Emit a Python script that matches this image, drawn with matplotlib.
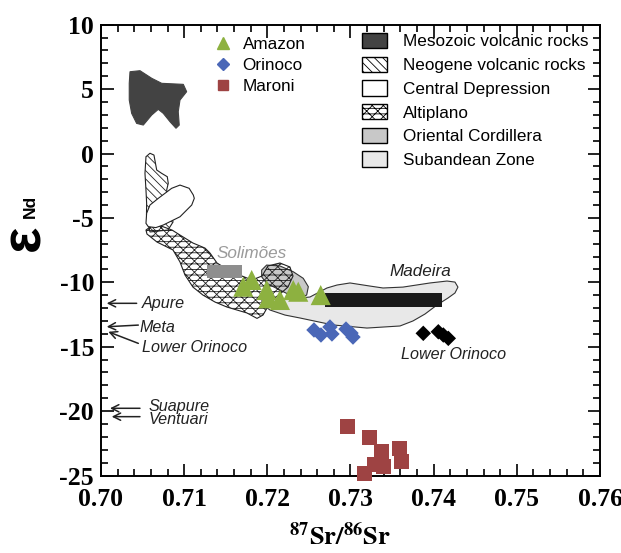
import matplotlib.pyplot as plt
from matplotlib.lines import Line2D
from matplotlib.patches import Patch

plt.rcParams['hatch.linewidth'] = 0.6
plt.rcParams['mathtext.fontset'] = 'stix'
plt.rcParams['axes.unicode_minus'] = False

# --- river samples (87Sr/86Sr, eps Nd) ---
amazon_sr = [0.71812, 0.71711, 0.71992, 0.72012, 0.72152, 0.72312, 0.72372, 0.72642]
amazon_nd = [-9.82, -10.34, -10.60, -11.24, -11.37, -10.60, -10.73, -10.99]

orinoco_sr = [0.72561, 0.72645, 0.72753, 0.72777, 0.72946, 0.73006, 0.73030]
orinoco_nd = [-13.70, -14.09, -13.47, -14.01, -13.63, -13.94, -14.25]

lower_orinoco_sr = [0.73875, 0.74056, 0.74116, 0.74176]
lower_orinoco_nd = [-13.96, -13.84, -14.09, -14.35]

maroni_sr = [0.72961, 0.73234, 0.73375, 0.73595, 0.73616, 0.73174, 0.73294, 0.73394]
maroni_nd = [-21.16, -22.03, -23.15, -22.89, -23.93, -24.83, -24.18, -24.32]

# ranges drawn as bars
madeira_sr = [0.7269, 0.7410]
madeira_nd = [-10.85, -11.89]
solimoes_sr = [0.7128, 0.7170]
solimoes_nd = [-8.66, -9.64]

# --- source fields (outlines) ---
mesozoic_x = [0.70349, 0.70469, 0.70610, 0.70730, 0.70990, 0.71030, 0.70950, 0.70929, 0.70941,
              0.70902, 0.70830, 0.70749, 0.70689, 0.70610, 0.70509, 0.70429, 0.70369, 0.70340, 0.70340]
mesozoic_y = [6.35, 6.43, 5.84, 5.45, 5.37, 4.80, 4.15, 3.25, 2.21,
              1.96, 2.47, 3.12, 3.43, 2.99, 2.21, 2.34, 3.12, 4.15, 5.45]

neogene_x = [0.70589, 0.70637, 0.70670, 0.70730, 0.70797, 0.70809, 0.70790, 0.70830,
             0.70866, 0.70806, 0.70589, 0.70547, 0.70549, 0.70541, 0.70529, 0.70541]
neogene_y = [0.02, -0.12, -1.28, -1.54, -1.80, -2.31, -2.83, -4.00,
             -5.32, -5.94, -6.09, -4.77, -3.87, -2.83, -1.54, -0.25]

central_x = [0.71110, 0.71060, 0.70950, 0.70850, 0.70689, 0.70589, 0.70549, 0.70541,
             0.70569, 0.70660, 0.70749, 0.70950, 0.71091, 0.71122]
central_y = [-3.22, -2.70, -2.45, -2.70, -3.48, -4.00, -4.64, -5.42,
             -5.68, -5.75, -5.55, -4.91, -4.00, -3.48]

altiplano_x = [0.70541, 0.70625, 0.70745, 0.70854, 0.70950, 0.71106, 0.71250, 0.71311, 0.71395,
               0.71491, 0.71695, 0.71816, 0.71936, 0.72008, 0.72152, 0.72272, 0.72309, 0.72248,
               0.72152, 0.72056, 0.71996, 0.71948, 0.71876, 0.71755, 0.71635, 0.71515, 0.71371,
               0.71226, 0.71106, 0.71010, 0.70950, 0.70866, 0.70673, 0.70553]
altiplano_y = [-5.94, -5.55, -5.68, -5.94, -6.33, -6.95, -7.34, -7.73, -8.50,
               -8.89, -9.51, -9.82, -9.51, -8.73, -8.50, -8.81, -9.51, -10.37,
               -10.91, -11.37, -12.00, -12.54, -12.80, -12.38, -12.15, -11.92, -11.53,
               -10.99, -10.37, -9.43, -8.42, -7.49, -6.87, -6.25]

cordillera_x = [0.71932, 0.71992, 0.72152, 0.72312, 0.72432, 0.72493, 0.72473, 0.72372,
                0.72272, 0.72152, 0.71992, 0.71932]
cordillera_y = [-9.05, -8.66, -8.73, -9.18, -9.69, -10.34, -10.99, -11.24,
                -10.99, -10.60, -10.08, -9.57]

subandean_x = [0.71936, 0.72152, 0.72513, 0.72717, 0.72838, 0.72994, 0.73234, 0.73391, 0.73631,
               0.73956, 0.74160, 0.74256, 0.74292, 0.74256, 0.74172, 0.74040, 0.73896, 0.73751,
               0.73595, 0.73198, 0.72789, 0.72393, 0.72212, 0.72032, 0.71936]
subandean_y = [-11.22, -11.37, -11.14, -10.44, -10.21, -10.05, -10.29, -10.44, -10.37,
               -10.05, -9.90, -9.98, -10.37, -10.83, -11.22, -11.76, -12.46, -13.00,
               -13.39, -13.55, -13.31, -12.77, -12.54, -12.15, -11.68]

x_ticks = [0.70, 0.71, 0.72, 0.73, 0.74, 0.75, 0.76]
y_ticks = [-25, -20, -15, -10, -5, 0, 5, 10]

fig = plt.figure(figsize=(6.21, 5.53), dpi=100)
ax = fig.add_axes([0.1626, 0.1401, 0.8036, 0.8152])

# fields
ax.fill(subandean_x, subandean_y, facecolor='#e8e8e8', edgecolor='#333333', lw=0.8, zorder=1)
ax.fill(cordillera_x, cordillera_y, facecolor='#c8c8c8', edgecolor='#333333', lw=0.8, zorder=2)
ax.fill(neogene_x, neogene_y, facecolor='white', edgecolor='#222222', hatch='\\\\\\\\', lw=0.8, zorder=2)
ax.fill(altiplano_x, altiplano_y, facecolor='none', edgecolor='#222222', hatch='xxx---', lw=0.8, zorder=3)
ax.fill(central_x, central_y, facecolor='white', edgecolor='#222222', lw=0.8, zorder=4)
ax.fill(mesozoic_x, mesozoic_y, facecolor='#434343', edgecolor='#434343', lw=0.8, zorder=4)

ax.fill_between(madeira_sr, madeira_nd[0], madeira_nd[1], color='#1a1a1a', lw=0, zorder=5)
ax.fill_between(solimoes_sr, solimoes_nd[0], solimoes_nd[1], color='#8e8e8e', lw=0, zorder=5)

# samples
ax.scatter(amazon_sr, amazon_nd, marker='^', s=210, color='#8db140', edgecolors='none', zorder=6)
ax.scatter(orinoco_sr, orinoco_nd, marker='D', s=62, color='#4a67b7', edgecolors='none', zorder=6)
ax.scatter(lower_orinoco_sr, lower_orinoco_nd, marker='D', s=62, color='black', edgecolors='none', zorder=6)
ax.scatter(maroni_sr, maroni_nd, marker='s', s=117, color='#9e4343', edgecolors='none',
           zorder=6, clip_on=False)

# labels in the plot
ital = dict(style='italic', family='Liberation Sans', fontsize=11.6, color='#222222')
ax.text(0.73836, -9.16, 'Madeira', ha='center', va='center', **dict(ital, fontsize=12.3))
ax.text(0.71810, -7.75, 'Solimões', ha='center', va='center', **dict(ital, fontsize=12.3, color='#9a9a9a'))
ax.text(0.74244, -15.64, 'Lower Orinoco', ha='center', va='center', **ital)

arrows = [((0.70069, -11.63), (0.70429, -11.63)),
          ((0.70069, -13.45), (0.70449, -13.32)),
          ((0.70088, -13.84), (0.70449, -14.74)),
          ((0.70108, -19.78), (0.70469, -19.78)),
          ((0.70129, -20.43), (0.70469, -20.43))]
for tip, tail in arrows:
    ax.annotate('', xy=tip, xytext=tail,
                arrowprops=dict(arrowstyle='->', lw=1.1, color='#222222', mutation_scale=13,
                                shrinkA=0, shrinkB=0))

ax.text(0.70489, -11.63, 'Apure', ha='left', va='center', **ital)
ax.text(0.70469, -13.50, 'Meta', ha='left', va='center', **ital)
ax.text(0.70489, -15.05, 'Lower Orinoco', ha='left', va='center', **ital)
ax.text(0.70569, -20.15, 'Suapure\nVentuari', ha='left', va='center', linespacing=0.78, **ital)

# axes
ax.set_xlim(0.70, 0.76)
ax.set_ylim(-25, 10)
ax.set_xticks(x_ticks)
ax.set_xticklabels(['%.2f' % v for v in x_ticks])
ax.set_yticks(y_ticks)
ax.set_xticks([0.70 + 0.002 * i for i in range(31)], minor=True)
ax.set_yticks(range(-25, 11), minor=True)
ax.tick_params(which='both', direction='in', top=True, right=True, width=1.2)
ax.tick_params(which='major', length=9)
ax.tick_params(which='minor', length=5)
ax.tick_params(axis='x', pad=9)
ax.tick_params(axis='y', pad=5)
for lab in ax.get_xticklabels() + ax.get_yticklabels():
    lab.set_family('Liberation Serif')
    lab.set_fontweight('bold')
    lab.set_fontsize(18.5)
for sp in ax.spines.values():
    sp.set_linewidth(1.4)

fig.text(0.548, 1 - 537 / 553, r'$\mathbf{^{87}Sr/^{86}Sr}$', ha='center', va='center', fontsize=19)
fig.text(25 / 621, 1 - 238 / 553, 'ε', rotation=90, ha='center', va='center',
         fontsize=40, fontweight='bold', family='Liberation Sans')
fig.text(30 / 621, 1 - 206 / 553, 'Nd', rotation=90, ha='center', va='center',
         fontsize=12.5, fontweight='bold', family='Liberation Sans')

# legends
leg_font = {'family': 'Liberation Sans', 'size': 12.3}
river_handles = [Line2D([], [], marker='^', ls='none', color='#8db140', ms=9),
                 Line2D([], [], marker='D', ls='none', color='#4a67b7', ms=6),
                 Line2D([], [], marker='s', ls='none', color='#9e4343', ms=7.5)]
leg1 = ax.legend(river_handles, ['Amazon', 'Orinoco', 'Maroni'], loc='upper left',
                 bbox_to_anchor=(214 / 621, 1 - 37 / 553), bbox_transform=fig.transFigure,
                 frameon=False, borderpad=0, borderaxespad=0, handlelength=1.0,
                 handletextpad=0.67, labelspacing=0.36, prop=leg_font)
ax.add_artist(leg1)

field_handles = [Patch(facecolor='#434343', edgecolor='black', lw=1.0),
                 Patch(facecolor='white', edgecolor='black', hatch='\\\\\\\\', lw=1.0),
                 Patch(facecolor='white', edgecolor='black', lw=1.0),
                 Patch(facecolor='white', edgecolor='black', hatch='xxx---', lw=1.0),
                 Patch(facecolor='#c8c8c8', edgecolor='black', lw=1.0),
                 Patch(facecolor='#e8e8e8', edgecolor='black', lw=1.0)]
field_names = ['Mesozoic volcanic rocks', 'Neogene volcanic rocks', 'Central Depression',
               'Altiplano', 'Oriental Cordillera', 'Subandean Zone']
ax.legend(field_handles, field_names, loc='upper left',
          bbox_to_anchor=(362 / 621, 1 - 33 / 553), bbox_transform=fig.transFigure,
          frameon=False, borderpad=0, borderaxespad=0, handlelength=1.46, handleheight=1.0,
          handletextpad=0.94, labelspacing=0.42, prop=leg_font)

fig.savefig('out.png', dpi=100)
